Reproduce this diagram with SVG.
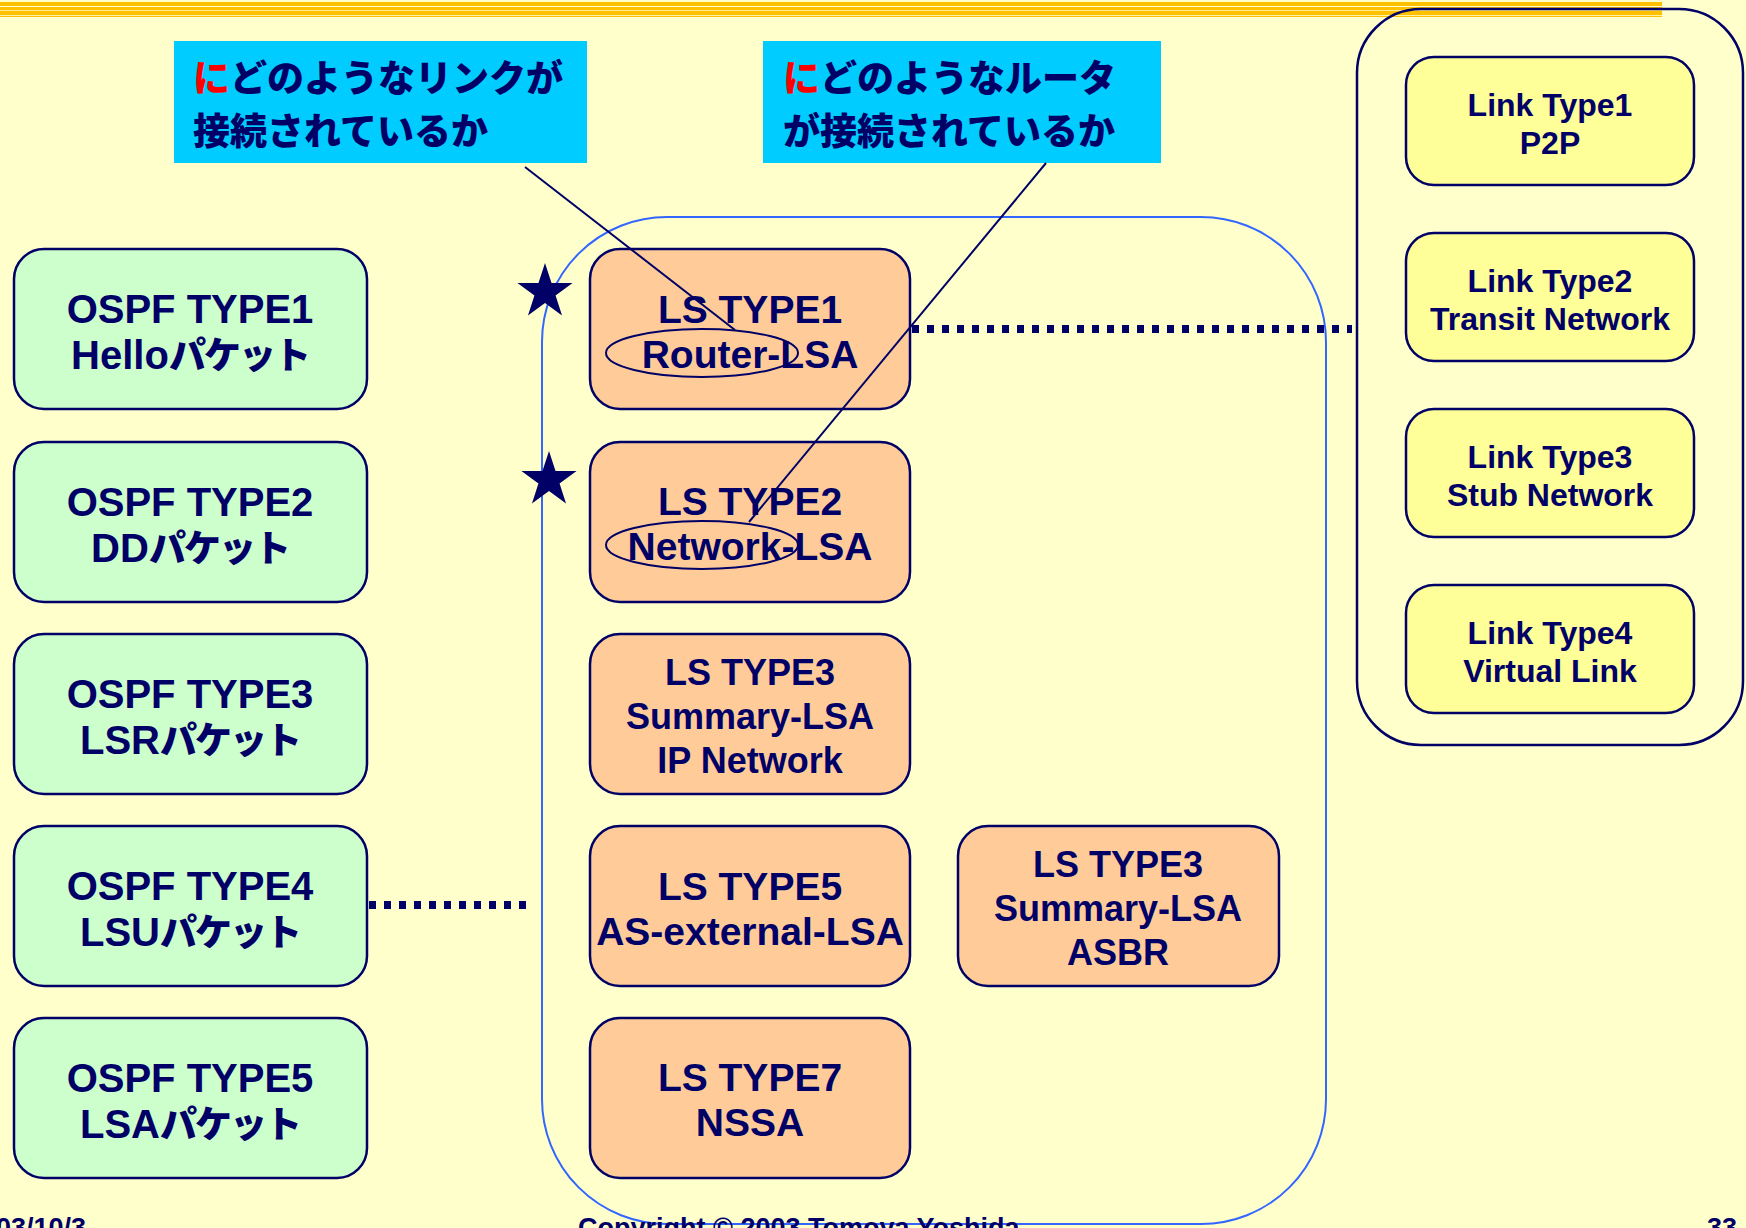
<svg xmlns="http://www.w3.org/2000/svg" width="1746" height="1228" viewBox="0 0 1746 1228">
  <style>
    text { font-family: "Liberation Sans", "Noto Sans CJK JP", sans-serif; font-weight: bold; fill: #000066; }
    .jp { font-family: "Noto Sans CJK JP", sans-serif; font-weight: 900; }
    .kana { font-family: "Noto Sans CJK JP", sans-serif; font-weight: 900; font-size: 37px; letter-spacing: -2px; }
    .box { stroke: #000066; stroke-width: 2.5; }
    .ospf { fill: #CCFFCC; }
    .ls { fill: #FFCC99; }
    .link { fill: #FFFF99; }
    .callout { fill: #00CCFF; }
    .t40 { font-size: 40px; text-anchor: middle; }
    .t39 { font-size: 39px; text-anchor: middle; }
    .t36 { font-size: 36px; text-anchor: middle; }
    .t32 { font-size: 32px; text-anchor: middle; }
    .t37 { font-size: 37px; }
    .red { fill: #FF0000; }
    .dots { stroke: #000066; stroke-width: 8; stroke-dasharray: 7 8; fill: none; }
    .thin { stroke: #000066; stroke-width: 2; fill: none; }
    .foot { font-size: 27px; }
  </style>
  <defs>
    <path id="star" d="M0,-29 L6.52,-8.98 L27.58,-8.96 L10.56,3.43 L17.05,23.46 L0,11.1 L-17.05,23.46 L-10.56,3.43 L-27.58,-8.96 L-6.52,-8.98 Z" fill="#000066"/>
  </defs>

  <!-- page background -->
  <rect x="0" y="0" width="1746" height="1228" fill="#FFFFCC"/>

  <!-- title stripes -->
  <g fill="#FFC000">
    <rect x="0" y="2" width="1662" height="4"/>
    <rect x="0" y="7" width="1662" height="3.3"/>
    <rect x="0" y="11" width="1662" height="4"/>
    <rect x="0" y="15.8" width="1662" height="1.2"/>
  </g>

  <!-- link type container -->
  <g id="link-types">
    <rect x="1357" y="9" width="386" height="736" rx="64" ry="64" fill="none" stroke="#000066" stroke-width="2.5"/>
  </g>

  <!-- LSA area container -->
  <g id="lsa-area">
    <rect x="542" y="217" width="784" height="1007" rx="125" ry="125" fill="none" stroke="#3366FF" stroke-width="2"/>
  </g>

  <!-- question callouts -->
  <g id="callout-link">
    <rect class="callout" x="174" y="41" width="413" height="122"/>
    <text class="jp t37" x="193" y="92"><tspan class="red">に</tspan>どのようなリンクが</text>
    <text class="jp t37" x="193" y="145">接続されているか</text>
  </g>
  <g id="callout-router">
    <rect class="callout" x="763" y="41" width="398" height="122"/>
    <text class="jp t37" x="783" y="92"><tspan class="red">に</tspan>どのようなルータ</text>
    <text class="jp t37" x="783" y="145">が接続されているか</text>
  </g>

  <!-- OSPF packet types -->
  <g id="ospf-type1">
    <rect class="box ospf" x="14" y="249" width="353" height="160" rx="30"/>
    <text class="t40" x="190" y="323">OSPF TYPE1</text>
    <text class="t40" x="190" y="369">Hello<tspan class="kana">パケット</tspan></text>
  </g>
  <g id="ospf-type2">
    <rect class="box ospf" x="14" y="442" width="353" height="160" rx="30"/>
    <text class="t40" x="190" y="516">OSPF TYPE2</text>
    <text class="t40" x="190" y="562">DD<tspan class="kana">パケット</tspan></text>
  </g>
  <g id="ospf-type3">
    <rect class="box ospf" x="14" y="634" width="353" height="160" rx="30"/>
    <text class="t40" x="190" y="708">OSPF TYPE3</text>
    <text class="t40" x="190" y="754">LSR<tspan class="kana">パケット</tspan></text>
  </g>
  <g id="ospf-type4">
    <rect class="box ospf" x="14" y="826" width="353" height="160" rx="30"/>
    <text class="t40" x="190" y="900">OSPF TYPE4</text>
    <text class="t40" x="190" y="946">LSU<tspan class="kana">パケット</tspan></text>
  </g>
  <g id="ospf-type5">
    <rect class="box ospf" x="14" y="1018" width="353" height="160" rx="30"/>
    <text class="t40" x="190" y="1092">OSPF TYPE5</text>
    <text class="t40" x="190" y="1138">LSA<tspan class="kana">パケット</tspan></text>
  </g>

  <!-- LSA types -->
  <g id="ls-type1">
    <rect class="box ls" x="590" y="249" width="320" height="160" rx="30"/>
    <text class="t39" x="750" y="323">LS TYPE1</text>
    <text class="t39" x="750" y="368">Router-LSA</text>
  </g>
  <g id="ls-type2">
    <rect class="box ls" x="590" y="442" width="320" height="160" rx="30"/>
    <text class="t39" x="750" y="515">LS TYPE2</text>
    <text class="t39" x="750" y="560">Network-LSA</text>
  </g>
  <g id="ls-type3-net">
    <rect class="box ls" x="590" y="634" width="320" height="160" rx="30"/>
    <text class="t36" x="750" y="685">LS TYPE3</text>
    <text class="t36" x="750" y="729">Summary-LSA</text>
    <text class="t36" x="750" y="773">IP Network</text>
  </g>
  <g id="ls-type5">
    <rect class="box ls" x="590" y="826" width="320" height="160" rx="30"/>
    <text class="t39" x="750" y="900">LS TYPE5</text>
    <text class="t39" x="750" y="945">AS-external-LSA</text>
  </g>
  <g id="ls-type3-asbr">
    <rect class="box ls" x="958" y="826" width="321" height="160" rx="30"/>
    <text class="t36" x="1118" y="877">LS TYPE3</text>
    <text class="t36" x="1118" y="921">Summary-LSA</text>
    <text class="t36" x="1118" y="965">ASBR</text>
  </g>
  <g id="ls-type7">
    <rect class="box ls" x="590" y="1018" width="320" height="160" rx="30"/>
    <text class="t39" x="750" y="1091">LS TYPE7</text>
    <text class="t39" x="750" y="1136">NSSA</text>
  </g>

  <!-- router link types -->
  <g id="link-type1">
    <rect class="box link" x="1406" y="57" width="288" height="128" rx="28"/>
    <text class="t32" x="1550" y="116">Link Type1</text>
    <text class="t32" x="1550" y="154">P2P</text>
  </g>
  <g id="link-type2">
    <rect class="box link" x="1406" y="233" width="288" height="128" rx="28"/>
    <text class="t32" x="1550" y="292">Link Type2</text>
    <text class="t32" x="1550" y="330">Transit Network</text>
  </g>
  <g id="link-type3">
    <rect class="box link" x="1406" y="409" width="288" height="128" rx="28"/>
    <text class="t32" x="1550" y="468">Link Type3</text>
    <text class="t32" x="1550" y="506">Stub Network</text>
  </g>
  <g id="link-type4">
    <rect class="box link" x="1406" y="585" width="288" height="128" rx="28"/>
    <text class="t32" x="1550" y="644">Link Type4</text>
    <text class="t32" x="1550" y="682">Virtual Link</text>
  </g>

  <!-- markers on the two LSAs discussed -->
  <g id="stars">
    <use href="#star" x="545" y="292"/>
    <use href="#star" x="549" y="480"/>
  </g>

  <!-- connectors -->
  <g id="connectors">
    <line class="dots" x1="912" y1="329" x2="1352" y2="329"/>
    <line class="dots" x1="369" y1="905" x2="534" y2="905"/>
    <ellipse class="thin" cx="702" cy="353" rx="96" ry="24"/>
    <ellipse class="thin" cx="702" cy="545" rx="96" ry="24"/>
    <line class="thin" x1="525" y1="167" x2="735" y2="330"/>
    <line class="thin" x1="1046" y1="163" x2="749" y2="522"/>
  </g>

  <!-- footer -->
  <g id="footer">
    <text class="foot" x="-4" y="1237">03/10/3</text>
    <text class="foot" x="578" y="1237">Copyright © 2003 Tomoya Yoshida</text>
    <text class="foot" x="1737" y="1237" text-anchor="end">33</text>
  </g>
</svg>
